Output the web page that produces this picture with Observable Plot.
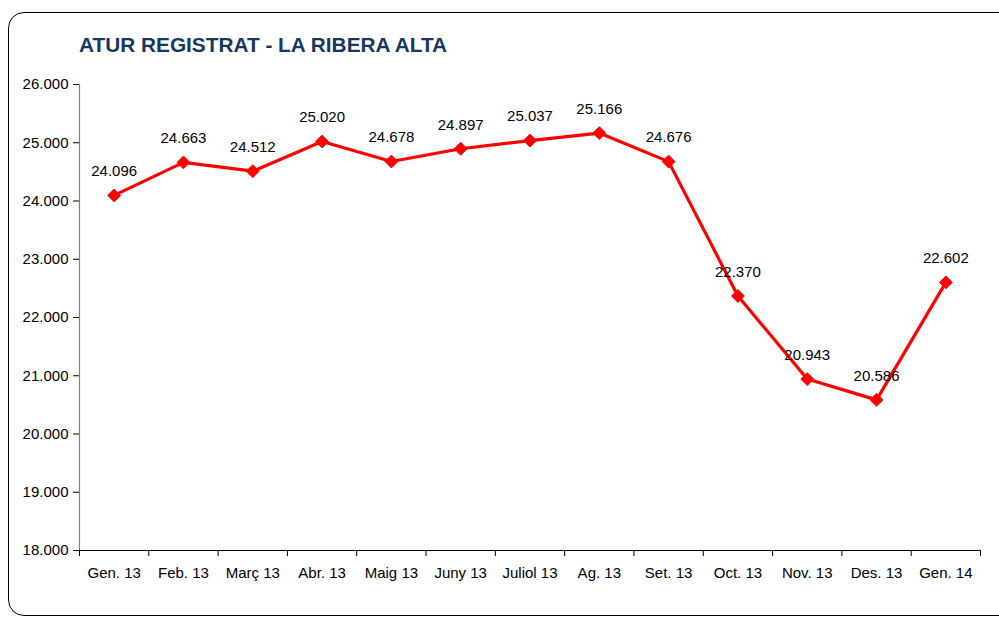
<!DOCTYPE html>
<html>
<head>
<meta charset="utf-8">
<script src="https://cdn.jsdelivr.net/npm/d3@7"></script>
<script src="https://cdn.jsdelivr.net/npm/@observablehq/plot@0.6"></script>
<style>
  html, body { margin: 0; padding: 0; background: #fff; }
  #wrap { position: relative; width: 999px; height: 619px; overflow: hidden; }
  #frame { position: absolute; left: 8px; top: 12px; width: 1010px; height: 604px;
           border: 1.6px solid #000; border-radius: 16px; box-sizing: border-box; }
  #title { position: absolute; left: 79px; top: 33px; margin: 0;
           font: bold 20.8px "Liberation Sans", Arial, sans-serif; color: #17375E; white-space: nowrap; }
  #chart { position: absolute; left: 0; top: 0; }
</style>
</head>
<body>
<div id="wrap">
  <div id="frame"></div>
  <div id="chart"></div>
  <div id="title">ATUR REGISTRAT - LA RIBERA ALTA</div>
</div>
<script>
const categories = ["Gen. 13","Feb. 13","Març 13","Abr. 13","Maig 13","Juny 13","Juliol 13","Ag. 13","Set. 13","Oct. 13","Nov. 13","Des. 13","Gen. 14"];
const values = [24096, 24663, 24512, 25020, 24678, 24897, 25037, 25166, 24676, 22370, 20943, 20586, 22602];
const yTicks = [18000, 19000, 20000, 21000, 22000, 23000, 24000, 25000, 26000];

const fmt = v => d3.format(",")(v).replace(/,/g, ".");
const data = categories.map((c, i) => ({cat: c, i: i + 0.5, v: values[i]}));
const n = categories.length;

const chart = Plot.plot({
  width: 999,
  height: 619,
  marginLeft: 79,
  marginRight: 19,
  marginTop: 84,
  marginBottom: 69,
  style: {fontFamily: "'Liberation Sans', Arial, sans-serif", fontSize: "15px", color: "#000", background: "transparent"},
  x: {type: "linear", domain: [0, n], axis: null},
  y: {domain: [18000, 26000], axis: null},
  marks: [
    Plot.axisY({ticks: yTicks, tickFormat: fmt, tickSize: 6, tickPadding: 5, stroke: "#000", fontSize: 15, label: null}),
    Plot.axisX({ticks: d3.range(0, n + 1), tickFormat: () => "", tickSize: 6, stroke: "#000", label: null}),
    Plot.ruleX([0], {stroke: "#808080", strokeWidth: 1.2}),
    Plot.ruleY([18000], {stroke: "#000", strokeWidth: 1.2}),
    Plot.text(data, {x: "i", y: () => 18000, text: "cat", dy: 23, fontSize: 15, fill: "#000"}),
    Plot.line(data, {x: "i", y: "v", stroke: "#FF0000", strokeWidth: 3.2}),
    Plot.dot(data, {x: "i", y: "v", symbol: "diamond2", r: 5.8, fill: "#FF0000", stroke: "#FF0000", strokeWidth: 1}),
    Plot.text(data, {x: "i", y: "v", text: d => fmt(d.v), dy: -24, fontSize: 15, fill: "#000"})
  ]
});
document.getElementById("chart").appendChild(chart);
</script>
</body>
</html>
